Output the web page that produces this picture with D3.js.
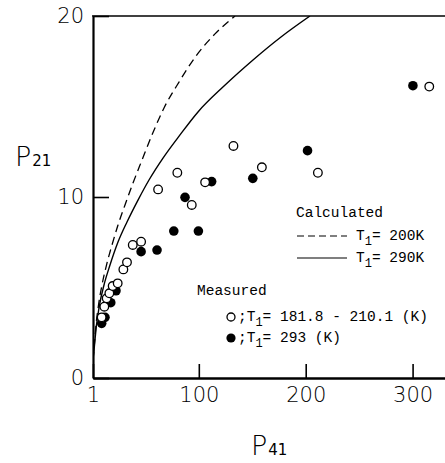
<!DOCTYPE html>
<html>
<head>
<meta charset="utf-8">
<script src="https://cdn.jsdelivr.net/npm/d3@7"></script>
<style>
  body { margin: 0; background: #fff; }
  .tick text { font-family: "DejaVu Sans", sans-serif; font-weight: 200; font-size: 21px; fill: #000; }
  .lg { font-family: "Liberation Mono", monospace; font-size: 14.5px; fill: #000; }
</style>
</head>
<body>
<div id="chart"></div>
<script>
// P41 vs P21 chart

var svgWidth = 445;
var svgHeight = 463;

var xTicks = [1, 100, 200, 300];
var yTicks = [0, 10, 20];

// measured, T1 = 181.8 - 210.1 K (open circles)
var openPts = [
  [9.1, 3.35], [11.6, 3.94], [13.8, 4.40], [16.3, 4.68], [19.4, 5.08], [24.1, 5.23],
  [29.4, 6.0], [32.8, 6.39], [38.2, 7.35], [46, 7.53], [61.9, 10.42], [79.9, 11.34],
  [93.4, 9.56], [105.9, 10.81], [132.4, 12.82], [159, 11.64], [211.4, 11.34], [315.6, 16.1]
];

// measured, T1 = 293 K (filled circles)
var filledPts = [
  [9.1, 3.02], [12.2, 3.35], [17.6, 4.16], [22.5, 4.82], [46, 6.98], [60.9, 7.07],
  [76.6, 8.12], [87.1, 9.98], [99.6, 8.12], [112, 10.85], [150.5, 11.03], [201.7, 12.56],
  [300.3, 16.15]
];

// calculated, T1 = 200 K (dashed)
var calc200 = [
  [1, 1], [2.22, 1.82], [3.81, 2.93], [6.15, 4.03], [9.42, 5.14], [13.63, 6.24],
  [18.78, 7.35], [24.39, 8.45], [30.94, 9.56], [38.42, 10.77], [46.84, 12.04],
  [56.2, 13.43], [67.43, 14.92], [81.46, 16.35], [97.36, 17.79], [115.14, 19.01], [133.85, 20]
];

// calculated, T1 = 290 K (solid)
var calc290 = [
  [1, 1], [2.4, 1.82], [4.27, 2.93], [7.08, 4.03], [11.29, 5.14], [16.9, 6.24],
  [24.39, 7.51], [32.81, 8.62], [43.1, 9.83], [53.39, 10.94], [66.49, 12.15],
  [82.39, 13.43], [99.23, 14.7], [123.56, 16.13], [150.69, 17.57], [176.89, 18.84], [204.02, 20]
];

var svg = d3.select("#chart")
    .append("svg")
    .attr("width", svgWidth)
    .attr("height", svgHeight);

var xScale = d3.scaleLinear().domain([1, 335]).range([93, 450]);
var yScale = d3.scaleLinear().domain([0, 20]).range([378, 16]);

// clip for the curves
svg.append("clipPath").attr("id", "plotclip")
  .append("rect")
    .attr("x", 93).attr("y", 16)
    .attr("width", 360).attr("height", 362);

// axes
var yAxis = d3.axisLeft(yScale).tickValues(yTicks).tickSize(-16).tickSizeOuter(0).tickPadding(9);
var xAxis = d3.axisBottom(xScale).tickValues(xTicks).tickSize(-14).tickSizeOuter(0).tickPadding(9);

var gy = svg.append("g").attr("transform", "translate(93,0)").call(yAxis);
var gx = svg.append("g").attr("transform", "translate(0,378)").call(xAxis);

gy.select(".domain").attr("stroke-width", 2.2);
gx.select(".domain").attr("stroke-width", 2.4);
gy.selectAll(".tick line").attr("stroke-width", 1.6);
gx.selectAll(".tick line").attr("stroke-width", 1.6);

// top border
svg.append("line")
    .attr("x1", 92).attr("x2", 450)
    .attr("y1", yScale(20)).attr("y2", yScale(20))
    .attr("stroke", "#000").attr("stroke-width", 1.6);

// curves
var line = d3.line()
    .x(d => xScale(d[0]))
    .y(d => yScale(d[1]))
    .curve(d3.curveMonotoneX);

svg.append("path")
    .datum(calc200)
    .attr("d", line)
    .attr("clip-path", "url(#plotclip)")
    .attr("fill", "none")
    .attr("stroke", "#000")
    .attr("stroke-width", 1.3)
    .attr("stroke-dasharray", "8,5");

svg.append("path")
    .datum(calc290)
    .attr("d", line)
    .attr("clip-path", "url(#plotclip)")
    .attr("fill", "none")
    .attr("stroke", "#000")
    .attr("stroke-width", 1.4);

// points
svg.append("g").selectAll("circle")
    .data(filledPts)
    .enter()
    .append("circle")
    .attr("cx", d => xScale(d[0]))
    .attr("cy", d => yScale(d[1]))
    .attr("r", 4.8)
    .attr("fill", "#000");

svg.append("g").selectAll("circle")
    .data(openPts)
    .enter()
    .append("circle")
    .attr("cx", d => xScale(d[0]))
    .attr("cy", d => yScale(d[1]))
    .attr("r", 4.3)
    .attr("fill", "#fff")
    .attr("stroke", "#000")
    .attr("stroke-width", 1.3);

// axis titles
var xt = svg.append("text")
    .attr("x", 251).attr("y", 455)
    .attr("font-family", "DejaVu Sans").attr("font-weight", 200)
    .attr("font-size", 27);
xt.append("tspan").text("P");
xt.append("tspan").attr("font-size", 15).attr("font-weight", 400).attr("dx", 1).text("41");

var yt = svg.append("text")
    .attr("x", 15).attr("y", 166)
    .attr("font-family", "DejaVu Sans").attr("font-weight", 200)
    .attr("font-size", 27);
yt.append("tspan").text("P");
yt.append("tspan").attr("font-size", 15).attr("font-weight", 400).attr("dx", 1).text("21");

// legend
function sub(g, x, y, pre, s, post) {
  var t = g.append("text").attr("class", "lg").attr("x", x).attr("y", y);
  t.append("tspan").text(pre);
  t.append("tspan").attr("dy", 5).attr("font-size", 12).text(s);
  t.append("tspan").attr("dy", -5).text(post);
}

var lg = svg.append("g");
lg.append("text").attr("class", "lg").attr("x", 296).attr("y", 217).text("Calculated");
lg.append("line")
    .attr("x1", 297).attr("x2", 347).attr("y1", 236).attr("y2", 236)
    .attr("stroke", "#000").attr("stroke-width", 1.2).attr("stroke-dasharray", "7,4");
sub(lg, 356, 240, "T", "1", "= 200K");
lg.append("line")
    .attr("x1", 297).attr("x2", 347).attr("y1", 258).attr("y2", 258)
    .attr("stroke", "#000").attr("stroke-width", 1.2);
sub(lg, 356, 262, "T", "1", "= 290K");

lg.append("text").attr("class", "lg").attr("x", 197).attr("y", 295).text("Measured");
lg.append("circle").attr("cx", 231).attr("cy", 317).attr("r", 4)
    .attr("fill", "#fff").attr("stroke", "#000").attr("stroke-width", 1.3);
sub(lg, 238, 321, ";T", "1", "= 181.8 - 210.1 (K)");
lg.append("circle").attr("cx", 231).attr("cy", 338).attr("r", 4.6).attr("fill", "#000");
sub(lg, 238, 342, ";T", "1", "= 293 (K)");
</script>
</body>
</html>
